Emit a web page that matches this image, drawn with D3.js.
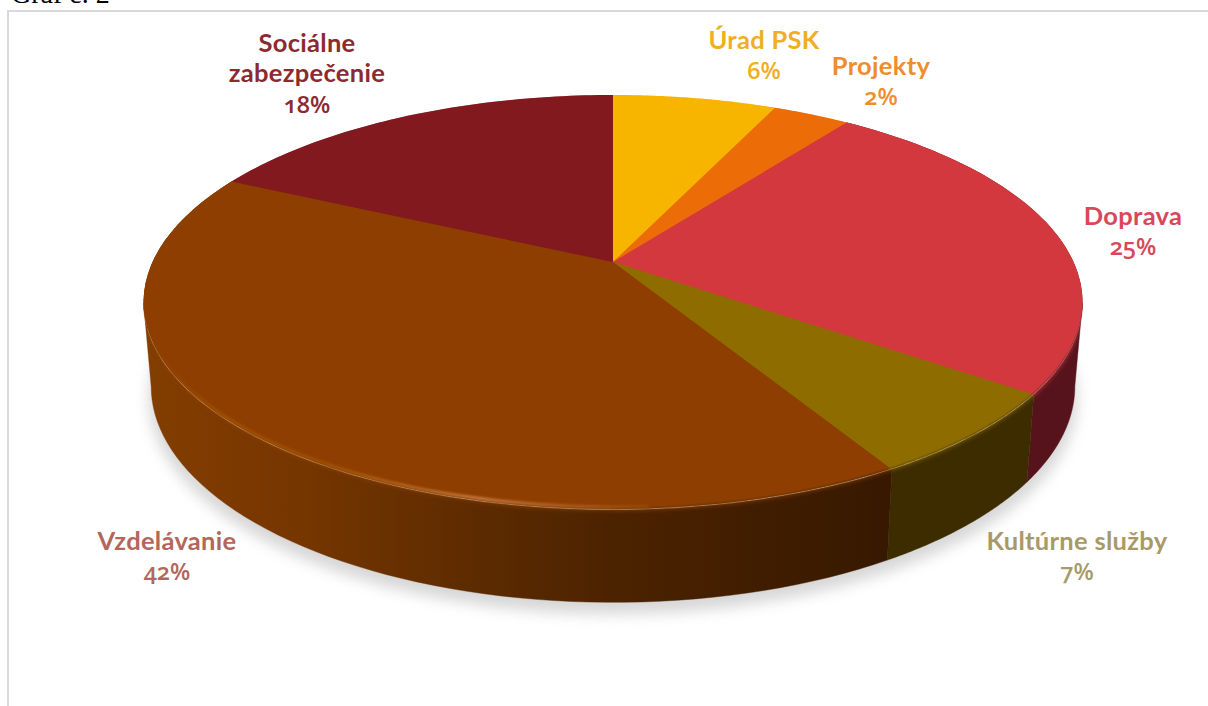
<!DOCTYPE html>
<html><head><meta charset="utf-8">
<script src="https://cdn.jsdelivr.net/npm/d3@7/dist/d3.min.js"></script>
<style>html,body{margin:0;padding:0;background:#fff;overflow:hidden}svg{display:block}</style>
</head><body><div id="c"></div>
<script>
const categories = ["Úrad PSK","Projekty","Doprava","Kultúrne služby","Vzdelávanie","Sociálne zabezpečenie"];
const sliceShares = [6.8,3.2,25,6.6,40.6,17.8];
const percentLabels = ["6%","2%","25%","7%","42%","18%"];
const topColors = ["#f7b500","#ec6d08","#d2383d","#8f6c00","#8e3f00","#81191f"];
const wallColors = ["#f7b500","#ec6d08","#57131b","#3d2c00","url(#wallGrad)","#81191f"];
const labelColors = ["#f1ae22","#ee8d2b","#d8485a","#a89a68","#b3665a","#8b2a30"];
const labelLines = [["Úrad PSK"],["Projekty"],["Doprava"],["Kultúrne služby"],["Vzdelávanie"],["Sociálne","zabezpečenie"]];
const labelPos = [[764,40],[881,66],[1133,216],[1077,541],[167,541],[307,43]];

const W=1208,H=706,cx=613;
const k=0.195;
const topP={cy:262,a:199.6,R:460.5}, botP={cy:344,a:208,R:453};
const svg=d3.select("#c").append("svg").attr("width",W).attr("height",H);
const defs=svg.append("defs");
const blur=(id,s)=>defs.append("filter").attr("id",id).attr("x","-10%").attr("y","-10%").attr("width","120%").attr("height","120%")
  .append("feGaussianBlur").attr("stdDeviation",s);
blur("b6",7);blur("b3",2.8);blur("b1",1.1);
const wg=defs.append("linearGradient").attr("id","wallGrad").attr("gradientUnits","userSpaceOnUse").attr("x1",150).attr("x2",890).attr("y1",0).attr("y2",0);
[[0,"#833d00"],[.2,"#763600"],[.42,"#5f2c00"],[.62,"#4c2300"],[.82,"#411d00"],[1,"#371900"]].forEach(d=>wg.append("stop").attr("offset",d[0]).attr("stop-color",d[1]));
const hg=defs.append("linearGradient").attr("id","hiGrad").attr("gradientUnits","userSpaceOnUse").attr("x1",150).attr("x2",720).attr("y1",0).attr("y2",0);
[[0,"#a65408",0],[.12,"#a95608",.7],[.3,"#a95608",.7],[.58,"#c8783c",1],[.75,"#b8662a",.7],[1,"#a05000",0]].forEach(d=>hg.append("stop").attr("offset",d[0]).attr("stop-color",d[1]).attr("stop-opacity",d[2]));

function proj(p,t,shrink){
  const r=1-(shrink||0)*Math.max(0,-Math.cos(t)-0.2);
  const u=r*Math.sin(t),v=-r*Math.cos(t),s=1/(1-k*v);
  return [cx+p.R*u*s,p.cy+p.a*v*s];
}
const samples=(a,b)=>d3.range(0,61).map(i=>a+(b-a)*i/60);
const line=d3.line();
const arcs=d3.pie().sort(null).value(d=>d)(sliceShares);
const sectorPath=(d,shrink)=>line([[cx,topP.cy],...samples(d.startAngle,d.endAngle).map(t=>proj(topP,t,shrink))])+"Z";
// the wall runs between the two silhouette points, where both rims are widest
const t0=Math.PI/2+Math.asin(k), t1=2*Math.PI-t0;
const wallPath=d=>{
  const a=Math.max(d.startAngle,t0),b=Math.min(d.endAngle,t1);
  if(b<=a) return "";
  const ts=samples(a,b);
  return line([...ts.map(t=>proj(topP,t)),...ts.slice().reverse().map(t=>proj(botP,t))])+"Z";
};
const frontArcs=arcs.filter(d=>d.endAngle>t0&&d.startAngle<t1);

// frame and clipped caption
svg.append("path").attr("d","M1208,11H8V706").attr("fill","none").attr("stroke","#d9d9d9").attr("stroke-width",2);
svg.append("text").attr("x",11).attr("y",3).attr("font-family","Liberation Serif").attr("font-size",28).attr("fill","#000").text("Graf č. 2");

// shadow
const full=samples(0,2*Math.PI);
svg.append("path").attr("d",line(full.map(t=>{const p=proj(botP,t);return [p[0]+(p[0]-cx)*0.006,p[1]+12];}))+"Z")
  .attr("fill","#d0d0d0").attr("opacity",.85).attr("filter","url(#b6)");

// walls, with the wall colour also under the face so that the soft rim fades into it
const wallFill=d=>wallColors[d.index];
svg.append("g").selectAll("path").data(frontArcs).join("path")
  .attr("d",wallPath).attr("fill",wallFill).attr("stroke",wallFill).attr("stroke-width",.4);
svg.append("g").selectAll("path").data(frontArcs).join("path")
  .attr("d",d=>sectorPath(d,0.004)).attr("fill",wallFill);

// soft rim: blurred faces clipped to the pie silhouette (top face and walls together)
const wallBand=[...samples(t0,t1).map(t=>proj(topP,t)),...samples(t0,t1).reverse().map(t=>proj(botP,t))];
defs.append("clipPath").attr("id","rimClip").append("path")
  .attr("d",line(full.map(t=>proj(topP,t)))+"Z"+line(wallBand)+"Z").attr("clip-rule","nonzero");
svg.append("g").attr("clip-path","url(#rimClip)").append("g").attr("filter","url(#b3)")
  .selectAll("path").data(arcs).join("path").attr("d",d=>sectorPath(d,0)).attr("fill",(d,i)=>topColors[i]);

// crisp faces
svg.append("g").selectAll("path").data(arcs).join("path")
  .attr("d",d=>sectorPath(d,0.012)).attr("fill",(d,i)=>topColors[i]);

// rim highlight on the largest slice
const big=arcs[4];
svg.append("path").attr("d",line(samples(Math.max(big.startAngle,Math.PI*.98),t1).map(t=>proj(topP,t,0.012))))
  .attr("fill","none").attr("stroke","url(#hiGrad)").attr("stroke-width",3).attr("filter","url(#b1)");

// labels
const lab=svg.append("g").attr("font-family","Lato").attr("font-weight",700).attr("font-size",25.5).attr("letter-spacing",.3).attr("text-anchor","middle");
categories.forEach((c,i)=>{
  const lines=[...labelLines[i]];
  lines.forEach((s,j)=>lab.append("text").attr("x",labelPos[i][0]).attr("y",labelPos[i][1]+j*30.5+8.5).attr("fill",labelColors[i]).text(s));
  lab.append("text").attr("x",labelPos[i][0]).attr("y",labelPos[i][1]+lines.length*30.5+8.5).attr("fill",labelColors[i])
    .attr("font-family","Open Sans").attr("font-size",23.5).attr("font-weight",600).attr("letter-spacing",0).style("font-feature-settings","'onum'").text(percentLabels[i]);
});
</script></body></html>
